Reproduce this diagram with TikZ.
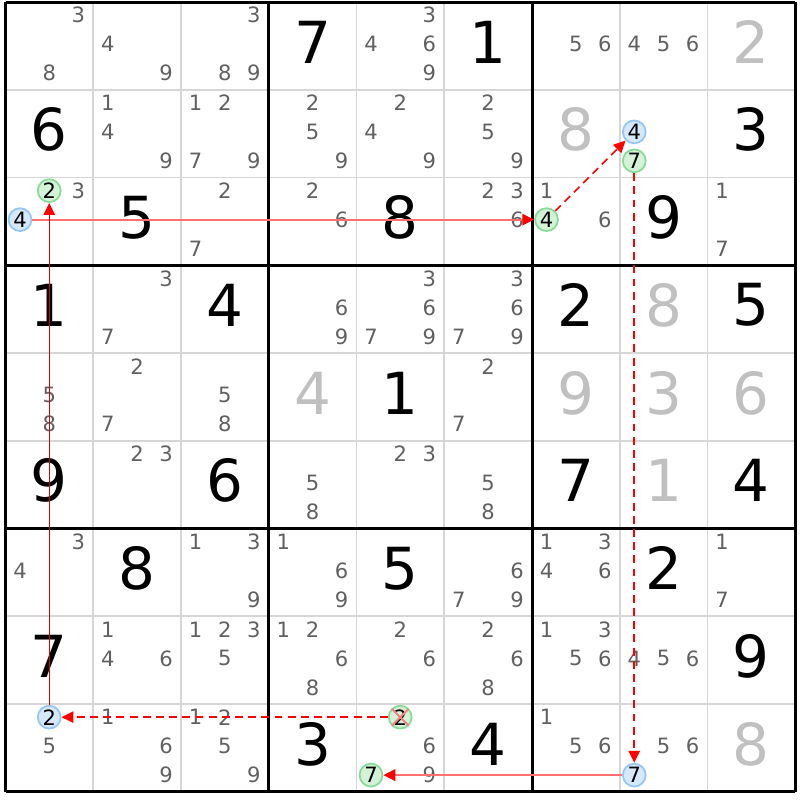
\documentclass[tikz,border=0pt]{standalone}
\usepackage{fontspec}
\setmainfont{DejaVu Sans}
\usetikzlibrary{arrows.meta}
\definecolor{candgray}{RGB}{96,96,96}
\definecolor{solvedgray}{RGB}{192,192,192}
\definecolor{gridgray}{RGB}{214,214,214}
\definecolor{ringblue}{RGB}{150,198,244}
\definecolor{fillblue}{RGB}{214,232,251}
\definecolor{ringgreen}{RGB}{136,218,150}
\definecolor{fillgreen}{RGB}{212,242,216}
\definecolor{linkred}{RGB}{255,112,112}
\definecolor{crossred}{RGB}{240,130,130}
\begin{document}
\begin{tikzpicture}[x=1.755cm, y=-1.755cm, >={Triangle[length=6.8pt,width=6.5pt,color=red]},
	cand/.style={text=candgray, font=\fontsize{12}{12}\selectfont, inner sep=0pt},
	given/.style={font=\fontsize{33}{33}\selectfont, inner sep=0pt},
	solved/.style={given, text=solvedgray},
	ringb/.style={circle, draw=ringblue, fill=fillblue, line width=1pt, minimum size=13pt, inner sep=0pt, font=\fontsize{12}{12}\selectfont},
	ringg/.style={ringb, draw=ringgreen, fill=fillgreen},
	strong/.style={->, draw=linkred, line width=1.1pt},
	weak/.style={->, draw=red, line width=0.9pt, dash pattern=on 4.5pt off 3pt}]
				\useasboundingbox (-0.063,-0.023) rectangle (9.054,9.094);
				\foreach \i in {1,2,4,5,7,8}{
				\draw[gridgray, line width=1.1pt] (\i,0)--(\i,9) (0,\i)--(9,\i);
				}
				\foreach \i in {0,3,6,9}{
				\draw[line width=1.7pt] (\i,0)--(\i,9) (0,\i)--(9,\i);
				}
				\foreach \r/\c/\ds in {1/1/{3,8}, 1/2/{4,9}, 1/3/{3,8,9}, 1/5/{3,4,6,9}, 1/7/{5,6}, 1/8/{4,5,6},
				2/2/{1,4,9}, 2/3/{1,2,7,9}, 2/4/{2,5,9}, 2/5/{2,4,9}, 2/6/{2,5,9},
				3/1/{3}, 3/3/{2,7}, 3/4/{2,6}, 3/6/{2,3,6}, 3/7/{1,6}, 3/9/{1,7},
				4/2/{3,7}, 4/4/{6,9}, 4/5/{3,6,7,9}, 4/6/{3,6,7,9},
				5/1/{5,8}, 5/2/{2,7}, 5/3/{5,8}, 5/6/{2,7},
				6/2/{2,3}, 6/4/{5,8}, 6/5/{2,3}, 6/6/{5,8},
				7/1/{3,4}, 7/3/{1,3,9}, 7/4/{1,6,9}, 7/6/{6,7,9}, 7/7/{1,3,4,6}, 7/9/{1,7},
				8/2/{1,4,6}, 8/3/{1,2,3,5}, 8/4/{1,2,6,8}, 8/5/{2,6}, 8/6/{2,6,8}, 8/7/{1,3,5,6}, 8/8/{4,5,6},
				9/1/{5}, 9/2/{1,6,9}, 9/3/{1,2,5,9}, 9/5/{6,9}, 9/7/{1,5,6}, 9/8/{5,6}}{
				\foreach \d in \ds {
				\node[cand] at ({\c-1+0.165+0.333*mod(\d-1,3)},{\r-1+0.15+0.33*int((\d-1)/3)}) {\d};
				}
				}
				\foreach \r/\c/\n in {1/4/7, 1/6/1, 2/1/6, 2/9/3, 3/2/5, 3/5/8, 3/8/9, 4/1/1, 4/3/4, 4/7/2, 4/9/5, 5/5/1,
				6/1/9, 6/3/6, 6/7/7, 6/9/4, 7/2/8, 7/5/5, 7/8/2, 8/1/7, 8/9/9, 9/4/3, 9/6/4}{
				\node[given] at (\c-0.5,\r-0.545) {\n};
				}
				\foreach \r/\c/\n in {1/9/2, 2/7/8, 4/8/8, 5/4/4, 5/7/9, 5/8/3, 5/9/6, 6/8/1, 9/9/8}{
				\node[solved] at (\c-0.5,\r-0.545) {\n};
				}
				% chain
				\node[ringb] (A) at (0.165,2.48) {4};
				\node[ringg] (F') at (0.498,2.15) {2};
				\node[ringg] (B) at (6.165,2.48) {4};
				\node[ringb] (C) at (7.165,1.48) {4};
				\node[ringg] (C') at (7.165,1.81) {7};
				\node[ringb] (D) at (7.165,8.81) {7};
				\node[ringg] (E) at (4.165,8.81) {7};
				\node[ringg] (E') at (4.498,8.15) {2};
				\node[ringb] (F) at (0.498,8.15) {2};
				\draw[strong] (A)--(B);
				\draw[weak] (B)--(C);
				\draw[weak] (C')--(D);
				\draw[strong] (D)--(E);
				\draw[weak] (E')--(F);
				\draw[->, red!85!black, line width=0.7pt] (F)--(F');
				\draw[crossred, line width=1.1pt] ([shift={(-0.095,-0.095)}]E'.center)--([shift={(0.095,0.095)}]E'.center) ([shift={(-0.095,0.095)}]E'.center)--([shift={(0.095,-0.095)}]E'.center);
			\end{tikzpicture}
\end{document}
